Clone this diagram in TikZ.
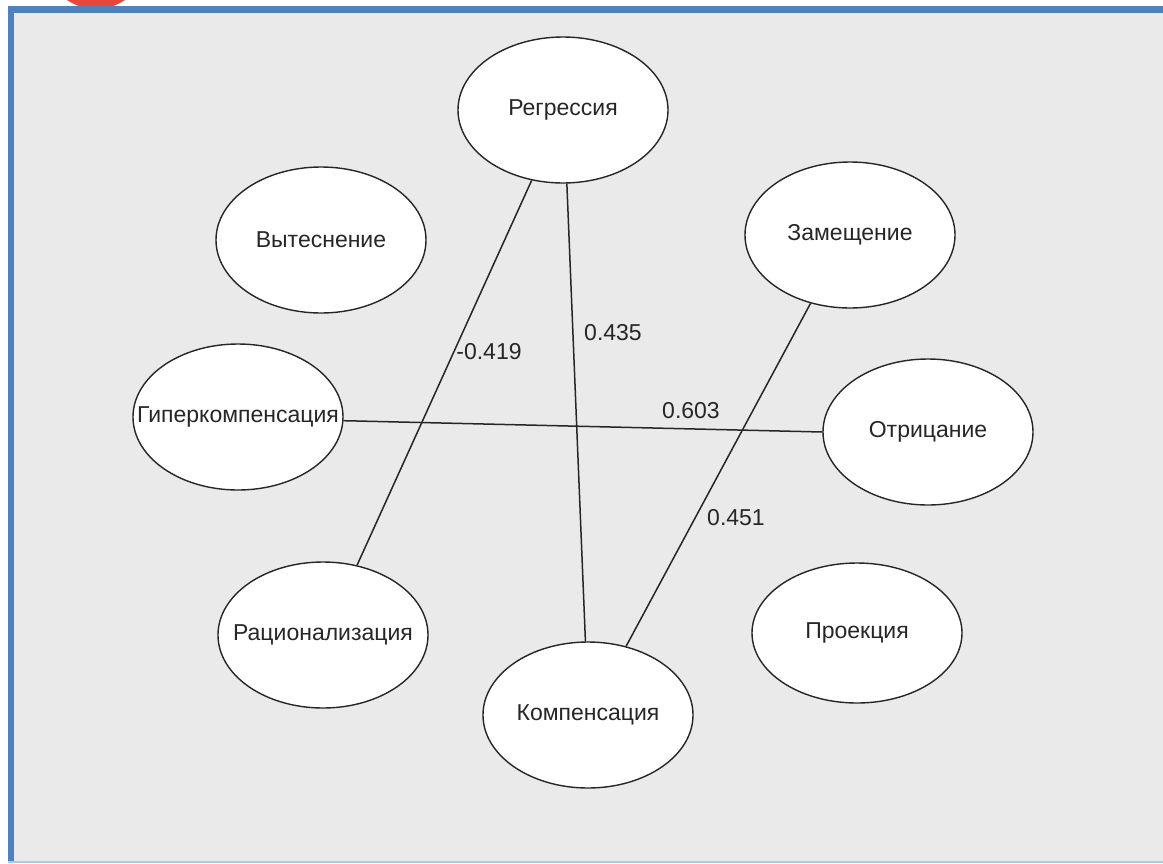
\documentclass[tikz,border=0pt]{standalone}
\usepackage{fontspec}
\setmainfont{Liberation Sans}
\usetikzlibrary{shapes.geometric}
\definecolor{bggray}{RGB}{234,234,234}
\definecolor{frameblue}{RGB}{79,129,189}
\definecolor{lightblue}{RGB}{176,198,228}
\definecolor{badgered}{RGB}{232,72,58}
\tikzset{
  defnode/.style={ellipse, draw=black!85, line width=1.4pt, fill=white,
    minimum width=210pt, minimum height=146pt, inner sep=0pt,
    label={[defText]center:#1}},
  defText/.style={font=\fontsize{23}{27}\selectfont, text=black!85, inner sep=0pt},
  corr/.style={draw=black!85, line width=1.5pt},
  val/.style={font=\fontsize{23}{27}\selectfont, text=black!85, inner sep=0pt}
}
\begin{document}
\begin{tikzpicture}[x=1pt,y=-1pt]
\useasboundingbox (0,0) rectangle (1163,863);
\fill[white] (0,0) rectangle (1163,863);
% red badge partly hidden behind the frame
\begin{scope}
  \clip (0,0) rectangle (1163,8);
  \fill[badgered] (96,-42) circle (51);
\end{scope}
% frame
\fill[bggray] (8,6) rectangle (1163,861);
\fill[frameblue] (8,6) rectangle (1163,12.5);
\fill[frameblue] (8,6) rectangle (14,861);
\fill[lightblue] (8,860.5) rectangle (1163,863);
% nodes
\node[defnode={Регрессия}] (reg) at (563,110) {};
\node[defnode={Вытеснение}] (vyt) at (321,240) {};
\node[defnode={Замещение}] (zam) at (850,235) {};
\node[defnode={Гиперкомпенсация}] (gip) at (238,417) {};
\node[defnode={Отрицание}] (otr) at (928,432) {};
\node[defnode={Рационализация}] (rac) at (323,635) {};
\node[defnode={Компенсация}] (kom) at (588,715) {};
\node[defnode={Проекция}, minimum height=140pt] (pro) at (857,633) {};
% connectors
\draw[corr] (reg.246.3) -- (rac.64.8);
\draw[corr] (reg.273.1) -- (kom.92.4);
\draw[corr] (gip.358.9) -- (otr.180);
\draw[corr] (zam.240.3) -- (kom.61.5);
% values
\node[val] (v1) at (489,352) {-0.419};
\node[val] (v2) at (613,333) {0.435};
\node[val] (v3) at (691,411) {0.603};
\node[val] (v4) at (736,518) {0.451};
\end{tikzpicture}
\end{document}
